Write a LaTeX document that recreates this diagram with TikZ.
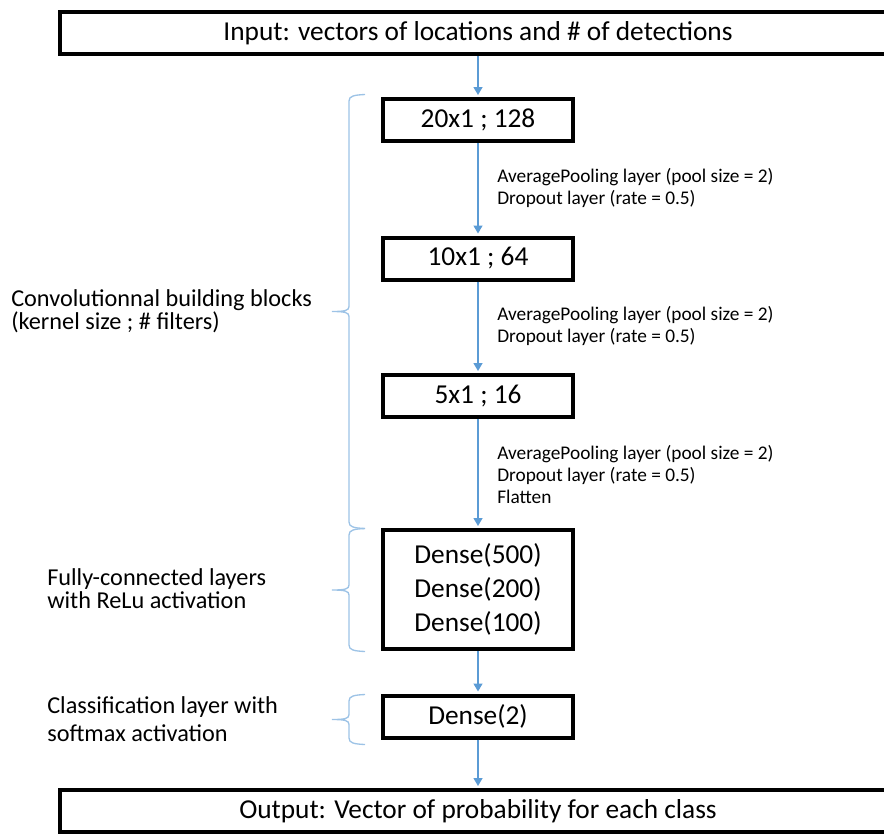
\documentclass[tikz,border=0pt]{standalone}
\usepackage{fontspec}
\setmainfont{Carlito}
\usetikzlibrary{arrows.meta}
\definecolor{flowblue}{HTML}{5B9BD5}
\definecolor{braceblue}{HTML}{9DC3E6}
\tikzset{
  layer/.style={draw,line width=3pt,minimum width=142.5pt,minimum height=31.5pt,
    inner sep=0pt,align=center,font=\fontsize{20.5}{25.5}\selectfont},
  iobox/.style={layer,minimum width=627pt},
  flow/.style={draw=flowblue,line width=1pt,shorten >=1.5pt,
    -{Triangle[width=6.75pt,length=6pt]}},
  note/.style={inner sep=0pt,anchor=west,align=left,font=\fontsize{14.5}{16.5}\selectfont},
  group/.style={note,font=\fontsize{18.2}{17}\selectfont},
  grp/.style={draw=braceblue,line width=1pt}
}
% curly brace opening to the right: top y, bottom y (picture units)
\newcommand{\grpbrace}[2]{%
  \draw[grp] (365,#1-1.5) .. controls (354,#1-1) and (349,#1) .. (349,#1+5)
    -- (349,{(#1+#2)/2-5}) .. controls (349,{(#1+#2)/2-1}) and (345,{(#1+#2)/2}) .. (332,{(#1+#2)/2})
    .. controls (345,{(#1+#2)/2}) and (349,{(#1+#2)/2+1}) .. (349,{(#1+#2)/2+5})
    -- (349,#2-5) .. controls (349,#2) and (354,#2+1) .. (365,#2+1.5);}
\begin{document}
\begin{tikzpicture}[x=0.75pt,y=-0.75pt]
  \useasboundingbox (0,0) rectangle (884,833);
  \clip (0,0) rectangle (884,833);
  % layers
  \node[iobox] (inp) at (478,33) {Input: vectors of locations and \# of detections};
  \node[layer] (conv1) at (478,120) {20x1 ; 128};
  \node[layer] (conv2) at (478,258.5) {10x1 ; 64};
  \node[layer] (conv3) at (478,396) {5x1 ; 16};
  \node[layer,minimum height=89.25pt] (dense) at (478,589.5) {Dense(500)\\Dense(200)\\Dense(100)};
  \node[layer] (cls) at (478,716.5) {Dense(2)};
  \node[iobox] (outp) at (478,811) {Output: Vector of probability for each class};
  % arrows
  \draw[flow] (inp.south) -- (conv1.north);
  \draw[flow] (conv1.south) -- (conv2.north);
  \draw[flow] (conv2.south) -- (conv3.north);
  \draw[flow] (conv3.south) -- (dense.north);
  \draw[flow] (dense.south) -- (cls.north);
  \draw[flow] (cls.south) -- (outp.north);
  % pooling notes
  \node[note] (pool1) at (497,188) {AveragePooling layer (pool size = 2)\\Dropout layer (rate = 0.5)};
  \node[note] (pool2) at (497,326) {AveragePooling layer (pool size = 2)\\Dropout layer (rate = 0.5)};
  \node[note] (pool3) at (497,474) {AveragePooling layer (pool size = 2)\\Dropout layer (rate = 0.5)\\Flatten};
  % braces
  \grpbrace{96}{527}
  \grpbrace{530}{650}
  \grpbrace{696}{743}
  \node[group] (convtxt) at (11,311) {Convolutionnal building blocks\\(kernel size ; \# filters)};
  \node[group] (fctxt) at (47,588.5) {Fully-connected layers\\with ReLu activation};
  \node[group,font=\fontsize{18.2}{21}\selectfont] (clstxt) at (47,719) {Classification layer with\\softmax activation};
\end{tikzpicture}
\end{document}
